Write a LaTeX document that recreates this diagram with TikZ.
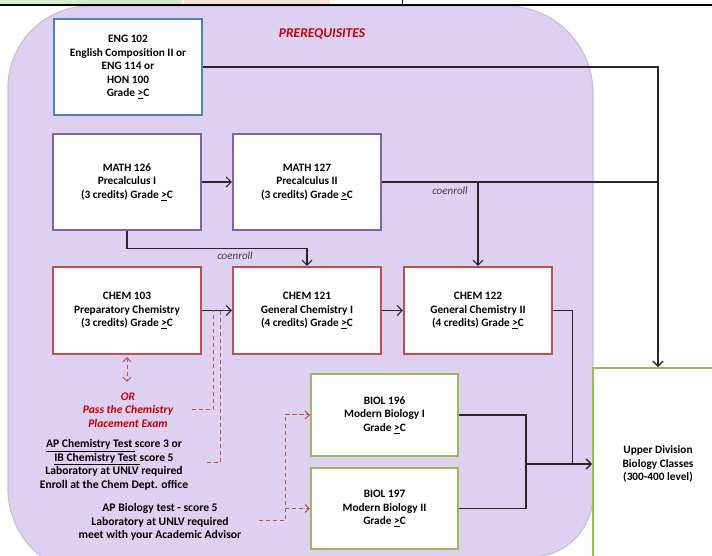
\documentclass[tikz,border=0pt]{standalone}
\usepackage{fontspec}
\setmainfont{Carlito}
\usepackage{xcolor}
\usepackage{tikz}
\usetikzlibrary{arrows.meta,positioning,calc}

\definecolor{purplebg}{RGB}{221,208,240}
\definecolor{purpleedge}{RGB}{200,190,222}
\definecolor{engblue}{RGB}{79,129,189}
\definecolor{mathpurple}{RGB}{128,100,162}
\definecolor{chemred}{RGB}{192,80,77}
\definecolor{biolgreen}{RGB}{155,187,89}
\definecolor{prered}{RGB}{204,0,0}
\definecolor{topgreen}{RGB}{216,235,200}
\definecolor{toppink}{RGB}{250,222,218}

\tikzset{
  course/.style={draw,fill=white,line width=2.2pt,align=center,inner sep=0pt,
    font=\fontsize{11.3}{13.6}\selectfont\bfseries,minimum width=148pt},
  engbox/.style={course,draw=engblue,minimum height=96pt},
  mathbox/.style={course,draw=mathpurple,minimum height=96pt},
  chembox/.style={course,draw=chemred,minimum height=87pt},
  biolbox/.style={course,draw=biolgreen,minimum width=147pt,minimum height=82pt},
  plain/.style={draw=black!85,line width=1.1pt},
  link/.style={plain,-{Straight Barb[length=5pt,width=10pt]}},
  dashlink/.style={draw=chemred,line width=1pt,dash pattern=on 4pt off 3pt},
  note/.style={align=center,inner sep=0pt,font=\fontsize{11.6}{13.6}\selectfont\bfseries},
  rednote/.style={note,text=prered,font=\fontsize{11.6}{13.6}\selectfont\bfseries\itshape},
  coenroll/.style={inner sep=0pt,text=black!75,font=\fontsize{11}{12}\selectfont\itshape}
}

\begin{document}
\begin{tikzpicture}[x=1pt,y=1pt]
	\useasboundingbox (0,0) rectangle (712,556);
	\clip (0,0) rectangle (712,556);
	% background panel
	\filldraw[fill=purplebg,draw=purpleedge,line width=1.2pt]
		(8,67) -- (8,468) arc[start angle=180,end angle=90,radius=82]
		-- (506,550) arc[start angle=90,end angle=0,radius=87]
		-- (593,61) arc[start angle=0,end angle=-90,radius=62]
		-- (531,-18) -- (93,-18) arc[start angle=270,end angle=180,radius=85] -- cycle;
	\fill[topgreen] (0,552) rectangle (182,556);
	\fill[toppink] (184,552) rectangle (330,556);
	\draw[line width=2pt] (0,551) -- (712,551);
	\draw[line width=1pt] (402,551) -- (402,556);
	\node[rednote,font=\fontsize{13.5}{14}\selectfont\bfseries\itshape] (title) at (322,522) {PREREQUISITES};

	% courses
	\node[engbox] (eng102) at (128,489) {ENG 102\\English Composition II or\\ENG 114 or\\HON 100\\Grade \underline{>}C};
	\node[mathbox] (math126) at (127,374) {MATH 126\\Precalculus I\\(3 credits) Grade \underline{>}C};
	\node[mathbox] (math127) at (307,374) {MATH 127\\Precalculus II\\(3 credits) Grade \underline{>}C};
	\node[chembox] (chem103) at (127,245.5) {CHEM 103\\Preparatory Chemistry\\(3 credits) Grade \underline{>}C};
	\node[chembox] (chem121) at (307,245.5) {CHEM 121\\General Chemistry I\\(4 credits) Grade \underline{>}C};
	\node[chembox] (chem122) at (478,245.5) {CHEM 122\\General Chemistry II\\(4 credits) Grade \underline{>}C};
	\node[biolbox] (biol196) at (384.5,141) {BIOL 196\\Modern Biology I\\Grade \underline{>}C};
	\node[biolbox,minimum height=81pt] (biol197) at (384.5,47.5) {BIOL 197\\Modern Biology II\\Grade \underline{>}C};
	\node[course,draw=biolgreen,minimum width=130pt,minimum height=192pt] (upper) at (658,92) {Upper Division\\Biology Classes\\(300-400 level)};

	% alternatives
	\node[rednote] (placement) at (128,146) {OR\\Pass the Chemistry\\Placement Exam};
	\node[note] (apchem) at (114,91) {\underline{AP Chemistry Test\ }score 3 or\\\underline{IB Chemistry Test\ }score 5\\Laboratory at UNLV required\\Enroll at the Chem Dept. office};
	\node[note] (apbio) at (160,34) {AP Biology test - score 5\\Laboratory at UNLV required\\meet with your Academic Advisor};

	% solid connectors
	\draw[link] (eng102.east) -| (upper.north);
	\draw[link] (math127.east) -| (upper.north);
	\draw[link] (math127.east -| chem122.north) -- (chem122.north);
	\node[coenroll] (coA) at (450,365) {coenroll};
	\draw[link] (math126.east) -- (math127.west);
	\draw[link] (math126.south) -- ++(0,-17) -| (chem121.north);
	\node[coenroll] (coB) at (235,300) {coenroll};
	\draw[link] (chem103.east) -- (chem121.west);
	\draw[link] (chem121.east) -- (chem122.west);
	\coordinate (merge) at (526,92);
	\draw[link] (chem122.east) -- ++(19,0) |- (upper.west);
	\draw[plain] (biol196.east) -| (merge);
	\draw[plain] (biol197.east) -| (merge);
	\draw[link] (merge) -- (upper.west);

	% dashed connectors
	\coordinate (orTop) at (127,174);
	\draw[dashlink,{Straight Barb[length=4pt,width=8pt]}-{Straight Barb[length=4pt,width=8pt]}] ([yshift=-2pt]chem103.south) -- (orTop);
	\coordinate (placeEnd) at (192,146);
	\coordinate (tapA) at (213,245.5);
	\draw[dashlink] (placeEnd) -| (tapA);
	\coordinate (apchemEnd) at (207,93);
	\coordinate (tapB) at (220,245.5);
	\draw[dashlink] (apchemEnd) -| (tapB);
	\coordinate (apbioEnd) at (259,35);
	\coordinate (bioRise) at (285,35);
	\draw[dashlink] (apbioEnd) -- (bioRise) |- (biol196.west);
	\draw[dashlink,-{Straight Barb[length=4pt,width=8pt]}] (bioRise |- biol196.west) -- (biol196.west);
	\draw[dashlink,-{Straight Barb[length=4pt,width=8pt]}] (bioRise |- biol197.west) -- (biol197.west);
\end{tikzpicture}
\end{document}
